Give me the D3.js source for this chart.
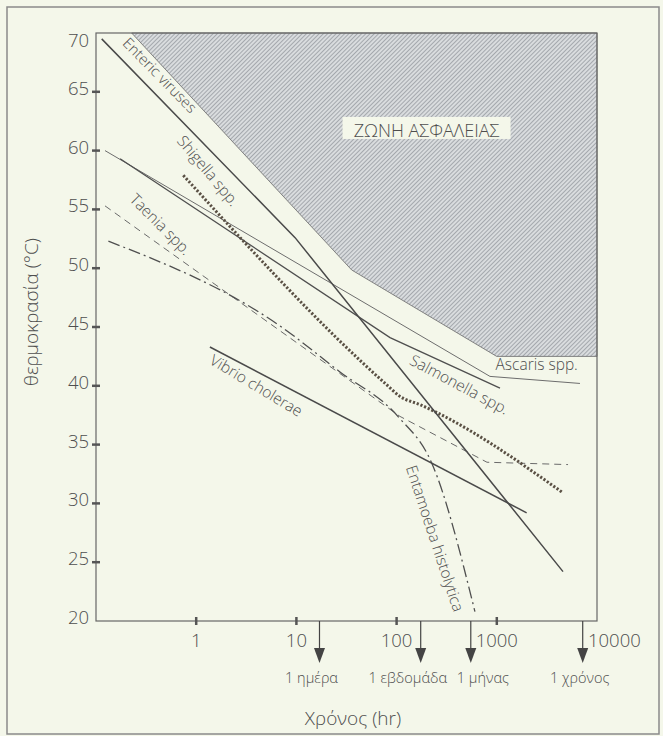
<!DOCTYPE html>
<html>
<head>
<meta charset="utf-8">
<script src="https://cdn.jsdelivr.net/npm/d3@7"></script>
<style>
  body { margin: 0; background: #f4f7ea; }
  svg { display: block; }
  text { font-family: "Open Sans", "Noto Sans", sans-serif; font-weight: 300; fill: #4e4e4e; }
</style>
</head>
<body>
<div id="chart"></div>
<script>
// time (hr) / temperature (°C) pairs
const entericViruses = [[0.114, 69.5], [9.7, 52.6], [4580, 24.2]];
const salmonella = [[0.174, 59.3], [86, 44.1], [1076, 39.8]];
const ascaris = [[0.123, 60.0], [855, 40.8], [6760, 40.2]];
const shigella = [[0.743, 57.9], [77, 40.2], [108, 39.1], [171, 38.4], [4580, 30.9]];
const taenia = [[0.123, 55.3], [108, 37.4], [798, 33.5], [5140, 33.3]];
const entamoeba = [[0.133, 52.3], [7.1, 45.0], [27, 41.2], [103, 37.4], [225, 33.4], [605, 20.8]];
const vibrio = [[1.37, 43.3], [1986, 29.2]];
const safetyZone = [[0.227, 70], [35.6, 49.85], [998, 42.5], [10000, 42.5], [10000, 70]];

const xTicks = [1, 10, 100, 1000, 10000];
const yTicks = [20, 25, 30, 35, 40, 45, 50, 55, 60, 65, 70];
const markerHours = [17, 174, 550, 7200];
const markerLabels = ["1 ημέρα", "1 εβδομάδα", "1 μήνας", "1 χρόνος"];

// label anchor (hr, °C) and angle
const labelNames = ["Enteric viruses", "Shigella spp.", "Taenia spp.", "Vibrio cholerae",
                    "Salmonella spp.", "Ascaris spp.", "Entamoeba histolytica"];
const labelPos = [[0.397, 66.09], [1.196, 57.98], [0.404, 53.4], [3.73, 39.63],
                  [399, 39.69], [2500, 41.34], [214, 26.87]];
const labelAngle = [45.5, 50, 45, 31, 28, 0, 71.7];

const width = 663, height = 736;
const svg = d3.select("#chart").append("svg")
    .attr("width", width)
    .attr("height", height);

// outer frame
svg.append("rect")
    .attr("x", 7).attr("y", 7)
    .attr("width", 652).attr("height", 727)
    .attr("fill", "#f4f7ea")
    .attr("stroke", "#8a8a8a")
    .attr("stroke-width", 1.5);

let x = d3.scaleLog().domain([0.1, 10000]).range([96, 597]);
let y = d3.scaleLinear().domain([20, 70]).range([621, 33]);

let defs = svg.append("defs");
let pat = defs.append("pattern")
    .attr("id", "hatch")
    .attr("patternUnits", "userSpaceOnUse")
    .attr("width", 3).attr("height", 3)
    .attr("patternTransform", "rotate(45)");
pat.append("rect").attr("width", 3).attr("height", 3).attr("fill", "#d9dcde");
pat.append("line").attr("x1", 0).attr("y1", 0).attr("x2", 0).attr("y2", 3)
    .attr("stroke", "#80858c").attr("stroke-width", 1.2);

let line = d3.line().x(d => x(d[0])).y(d => y(d[1]));

// safety zone
svg.append("path")
    .attr("d", line(safetyZone) + "Z")
    .attr("fill", "url(#hatch)")
    .attr("stroke", "#777")
    .attr("stroke-width", 0.9);

let zone = svg.append("g");
let zx = x(199), zy = y(61.16);
zone.append("rect")
    .attr("x", zx - 84).attr("y", zy - 20)
    .attr("width", 168).attr("height", 22)
    .attr("fill", "#f4f7ea");
zone.append("text")
    .attr("x", zx).attr("y", zy)
    .attr("text-anchor", "middle")
    .style("font-size", "18px")
    .text("ΖΩΝΗ ΑΣΦΑΛΕΙΑΣ");

// plot frame
svg.append("rect")
    .attr("x", x(0.1)).attr("y", y(70))
    .attr("width", x(10000) - x(0.1)).attr("height", y(20) - y(70))
    .attr("fill", "none")
    .attr("stroke", "#666")
    .attr("stroke-width", 1.2);

// curves
const series = [
  {data: ascaris, color: "#6d6d6d", w: 1, dash: null, curve: d3.curveLinear},
  {data: salmonella, color: "#4f4f4f", w: 1.3, dash: null, curve: d3.curveLinear},
  {data: taenia, color: "#6a6a6a", w: 1, dash: "7 5", curve: d3.curveLinear},
  {data: entamoeba, color: "#4f4f4f", w: 1.3, dash: "12 4 2 4", curve: d3.curveMonotoneX},
  {data: vibrio, color: "#4a4a4a", w: 1.5, dash: null, curve: d3.curveLinear},
  {data: shigella, color: "#5a5044", w: 3, dash: "2.2 1.8", curve: d3.curveMonotoneX},
  {data: entericViruses, color: "#4a4a4a", w: 1.5, dash: null, curve: d3.curveLinear}
];
series.forEach(function (s) {
    svg.append("path")
        .attr("d", d3.line().x(d => x(d[0])).y(d => y(d[1])).curve(s.curve)(s.data))
        .attr("fill", "none")
        .attr("stroke", s.color)
        .attr("stroke-width", s.w)
        .attr("stroke-dasharray", s.dash);
});

// curve labels
labelNames.forEach(function (name, i) {
    let px = x(labelPos[i][0]), py = y(labelPos[i][1]);
    svg.append("text")
        .attr("transform", `translate(${px},${py}) rotate(${labelAngle[i]})`)
        .attr("text-anchor", "middle")
        .style("font-size", i === 0 ? "15px" : "15.5px")
        .text(name);
});

// y ticks
yTicks.forEach(function (t) {
    if (t > 20 && t < 70) {
        svg.append("line")
            .attr("x1", 92).attr("x2", 100)
            .attr("y1", y(t)).attr("y2", y(t))
            .attr("stroke", "#555").attr("stroke-width", 2.5);
    }
    svg.append("text")
        .attr("x", 89).attr("y", t === 70 ? y(t) + 14 : y(t) + 3)
        .attr("text-anchor", "end")
        .style("font-size", "18.5px")
        .text(t);
});

// x ticks
xTicks.forEach(function (t) {
    if (t < 10000) {
        svg.append("line")
            .attr("x1", x(t)).attr("x2", x(t))
            .attr("y1", 617).attr("y2", 625)
            .attr("stroke", "#555").attr("stroke-width", 2.5);
    }
    svg.append("text")
        .attr("x", t === 10000 ? x(t) - 9 : x(t))
        .attr("y", 647)
        .attr("text-anchor", t === 10000 ? "start" : "middle")
        .style("font-size", "18.5px")
        .text(t);
});

// time markers
const labelShift = [-8, -13, 12, -3];
markerHours.forEach(function (h, i) {
    let mx = x(h);
    svg.append("line")
        .attr("x1", mx).attr("x2", mx)
        .attr("y1", 621).attr("y2", 650)
        .attr("stroke", "#444").attr("stroke-width", 1.2);
    svg.append("path")
        .attr("d", `M${mx - 5.5},648 L${mx + 5.5},648 L${mx},663 Z`)
        .attr("fill", "#444");
    svg.append("text")
        .attr("x", mx + labelShift[i]).attr("y", 683)
        .attr("text-anchor", "middle")
        .style("font-size", "14.5px")
        .text(markerLabels[i]);
});

// axis titles
svg.append("text")
    .attr("x", 353).attr("y", 725)
    .attr("text-anchor", "middle")
    .style("font-size", "19px")
    .text("Χρόνος (hr)");

svg.append("text")
    .attr("transform", "translate(38, 312) rotate(-90)")
    .attr("text-anchor", "middle")
    .style("font-size", "19px")
    .text("θερμοκρασία (°C)");
</script>
</body>
</html>
